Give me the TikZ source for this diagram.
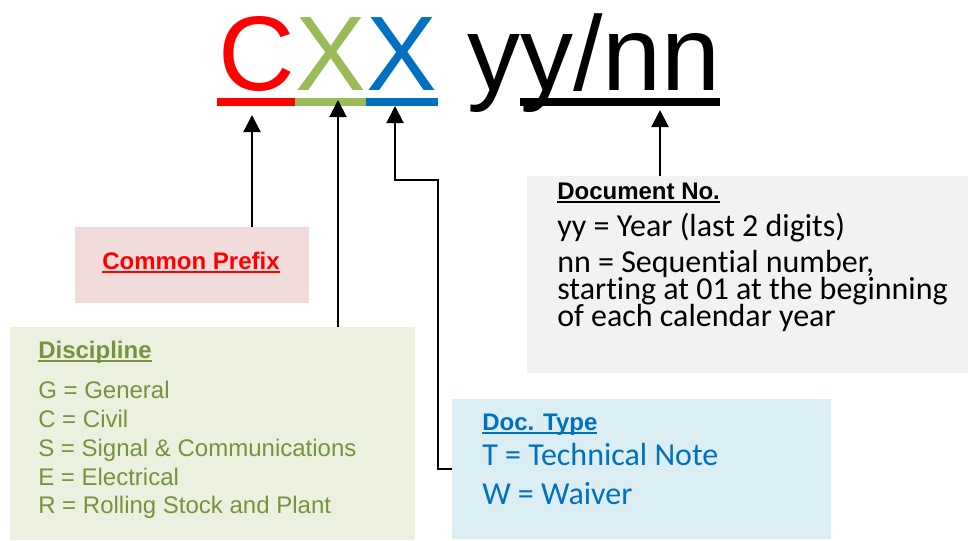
\documentclass[tikz,border=0pt]{standalone}
\usepackage{fontspec}
\setmainfont{Liberation Sans}
\newfontfamily\calfont[Ligatures={NoCommon,NoRare}]{Carlito}
\usetikzlibrary{arrows.meta}
\definecolor{cred}{HTML}{FF0000}
\definecolor{cgreen}{HTML}{9BBB59}
\definecolor{cblue}{HTML}{0070C0}
\definecolor{dgreen}{HTML}{77933C}
\definecolor{fpink}{HTML}{F2DCDB}
\definecolor{fgreen}{HTML}{EBF1DE}
\definecolor{fblue}{HTML}{DBEEF4}
\definecolor{fgray}{HTML}{F2F2F2}
\newcommand\hul[1]{\setbox0\hbox{#1}\rlap{\rule[-2.9pt]{\wd0}{1.3pt}}\box0}
\tikzset{
  tnode/.style={anchor=base west, inner sep=0pt, font=\fontsize{79.5}{90}\selectfont},
  txt/.style={anchor=base west, inner sep=0pt, font=\fontsize{18}{21}\selectfont},
  ctxt/.style={anchor=base west, inner sep=0pt, font=\calfont\fontsize{24}{28}\selectfont},
  boxn/.style={anchor=north west, inner sep=0pt, draw=none},
  arr/.style={draw=black, line width=1.5pt, line join=miter, -{Triangle[length=12.75pt,width=12.75pt]}}
}
\begin{document}
\begin{tikzpicture}[x=0.75pt,y=-0.75pt]
\useasboundingbox[fill=white] (0,0) rectangle (968,540);

% boxes
\node[boxn, fill=fpink, minimum width=175.5pt, minimum height=57pt] (prefix) at (75,227) {};
\node[boxn, fill=fgreen, minimum width=303.75pt, minimum height=159.75pt] (disc) at (10,327) {};
\node[boxn, fill=fblue, minimum width=284.25pt, minimum height=105pt] (dtype) at (452,399) {};
\node[boxn, fill=fgray, minimum width=330.75pt, minimum height=147.75pt] (docno) at (527,176) {};

% title
\node[tnode, text=cred] (tC) at (218,90) {C};
\node[tnode, text=cgreen] (tX1) at (tC.base east) {X};
\node[tnode, text=cblue] (tX2) at (tX1.base east) {X};
\node[tnode, text=black] (tY) at (tX2.base east) {\hspace*{0.278em}yy/nn};
\fill[cred] (217,98) rectangle (295,106);
\fill[cgreen] (295,98) rectangle (366,106);
\fill[cblue] (366,98) rectangle (438,106);
\fill[black] (520,98) rectangle (720,106);

% arrow tips
\coordinate (tipC) at (252,115);
\coordinate (tipX1) at (338,100);
\coordinate (tipX2) at (395,106);
\coordinate (tipN) at (660,110);
\coordinate (j1) at (438,180);

\draw[arr] (prefix.north -| tipC) -- (tipC);
\draw[arr] (disc.north -| tipX1) -- (tipX1);
\draw[arr] (dtype.west) -| (j1) -- (j1 -| tipX2) -- (tipX2);
\draw[arr] (docno.north -| tipN) -- (tipN);

% Common prefix
\node[txt, anchor=base, text=cred] (cp) at (191,269) {\bfseries\hul{Common Prefix}};

% Discipline
\node[txt, text=dgreen] (dh) at (38,358) {\bfseries\hul{Discipline}};
\node[txt, text=dgreen] (d1) at (38,398) {G = General};
\node[txt, text=dgreen] (d2) at (38,427) {C = Civil};
\node[txt, text=dgreen] (d3) at (38,456) {S = Signal \& Communications};
\node[txt, text=dgreen] (d4) at (38,485) {E = Electrical};
\node[txt, text=dgreen] (d5) at (38,513) {R = Rolling Stock and Plant};

% Doc type
\node[txt, text=cblue] (th) at (482,430) {\bfseries\hul{Doc. Type}};
\node[ctxt, text=cblue] (t1) at (482,465) {T = Technical Note};
\node[ctxt, text=cblue] (t2) at (482,504) {W = Waiver};

% Document No.
\node[txt, text=black] (nh) at (557,199) {\bfseries\hul{Document No.}};
\node[ctxt, text=black] (n1) at (557,236) {yy = Year (last 2 digits)};
\node[ctxt, text=black] (n2) at (557,272) {nn = Sequential number,};
\node[ctxt, text=black] (n3) at (557,299) {starting at 01 at the beginning};
\node[ctxt, text=black] (n4) at (557,326) {of each calendar year};
\end{tikzpicture}
\end{document}
